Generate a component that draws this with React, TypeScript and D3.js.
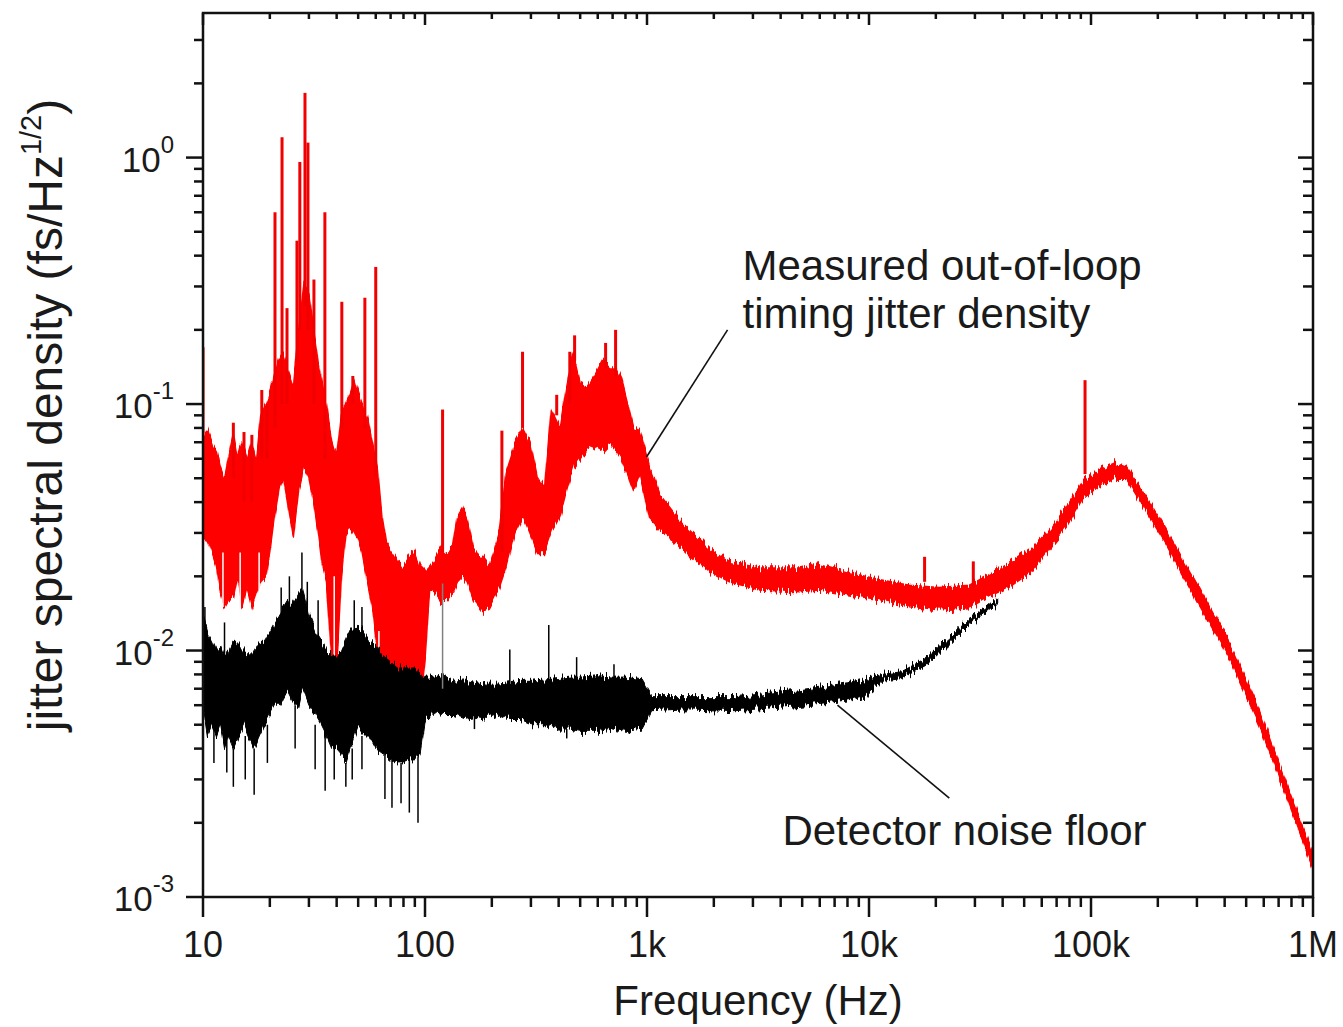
import * as d3 from "d3";

const width = 1343;
const height = 1027;
const plot = { left: 203, right: 1313, top: 13, bottom: 897 };
const font = "'Liberation Sans', Arial, Helvetica, sans-serif";

const freqTicks = [10, 100, 1000, 10000, 100000, 1000000];
const freqTickLabels = ["10", "100", "1k", "10k", "100k", "1M"];
const densityTicks = [0.001, 0.01, 0.1, 1];
const densityExponents = ["-3", "-2", "-1", "0"];

// measured out-of-loop jitter: [freq Hz, lower edge, upper edge] of the noisy trace
const redBand: [number, number, number][] = [
  [10, 0.03, 0.075], [10.5, 0.028, 0.078], [11, 0.025, 0.07], [11.5, 0.022, 0.065],
  [12, 0.017, 0.055], [12.5, 0.015, 0.05], [13, 0.016, 0.06], [13.7, 0.0165, 0.075],
  [14.3, 0.02, 0.06], [15, 0.015, 0.07], [15.8, 0.018, 0.06], [16.6, 0.015, 0.07],
  [17.4, 0.017, 0.06], [18.2, 0.019, 0.09], [19.2, 0.02, 0.1], [20, 0.025, 0.11],
  [21, 0.035, 0.13], [22, 0.045, 0.15], [23, 0.05, 0.16], [24, 0.04, 0.14],
  [25.5, 0.029, 0.12], [27, 0.045, 0.2], [28.5, 0.055, 0.3], [30, 0.05, 0.28],
  [31.5, 0.04, 0.2], [33, 0.03, 0.15], [34.5, 0.022, 0.12], [36, 0.019, 0.1],
  [38, 0.009, 0.07], [40, 0.0085, 0.06], [42, 0.02, 0.09], [44, 0.03, 0.1],
  [46, 0.032, 0.11], [48, 0.03, 0.125], [50, 0.028, 0.11], [52, 0.025, 0.1],
  [55, 0.019, 0.088], [58, 0.015, 0.07], [61, 0.01, 0.056], [64, 0.008, 0.035],
  [67, 0.0065, 0.027], [71, 0.006, 0.025], [75, 0.0055, 0.023], [80, 0.0052, 0.022],
  [85, 0.0052, 0.024], [90, 0.0055, 0.025], [95, 0.006, 0.022], [100, 0.009, 0.021],
  [105, 0.0176, 0.022], [112, 0.017, 0.024], [118, 0.016, 0.026], [125, 0.016, 0.025],
  [133, 0.017, 0.026], [140, 0.019, 0.035], [148, 0.02, 0.038], [155, 0.019, 0.034],
  [165, 0.016, 0.026], [180, 0.0145, 0.024], [195, 0.015, 0.022], [216, 0.018, 0.03],
  [233, 0.022, 0.055], [254, 0.03, 0.07], [276, 0.035, 0.08], [297, 0.03, 0.07],
  [320, 0.025, 0.05], [345, 0.025, 0.045], [370, 0.03, 0.095], [405, 0.035, 0.08],
  [435, 0.045, 0.12], [465, 0.055, 0.16], [500, 0.06, 0.12], [535, 0.065, 0.117],
  [580, 0.068, 0.13], [630, 0.065, 0.15], [680, 0.07, 0.14], [725, 0.065, 0.14],
  [770, 0.06, 0.125], [820, 0.052, 0.1], [870, 0.045, 0.08], [927, 0.052, 0.078],
  [1030, 0.034, 0.056], [1140, 0.031, 0.043], [1330, 0.028, 0.036], [1560, 0.0245, 0.031],
  [1910, 0.021, 0.026], [2350, 0.019, 0.023], [3200, 0.0176, 0.0216], [4860, 0.0173, 0.0216],
  [5980, 0.0176, 0.0225], [8170, 0.0168, 0.0207], [11100, 0.0161, 0.0194], [15200, 0.0152, 0.0184],
  [20700, 0.0146, 0.018], [28300, 0.0149, 0.0184], [34800, 0.0166, 0.0203], [42900, 0.0181, 0.0226],
  [54300, 0.021, 0.026], [64900, 0.026, 0.031], [77300, 0.0316, 0.038], [91200, 0.041, 0.048],
  [108900, 0.0465, 0.054], [129800, 0.05, 0.058], [143900, 0.05, 0.056], [164700, 0.041, 0.047],
  [217800, 0.027, 0.031], [306700, 0.0152, 0.018], [432300, 0.0088, 0.0102], [571600, 0.005, 0.0058],
  [779800, 0.0024, 0.0027], [1000000, 0.0013, 0.0015],
];

// narrow lines in the measured trace: [freq Hz, base, peak]
const redSpikes: [number, number, number][] = [
  [10, 0.05, 0.17], [13.7, 0.05, 0.084], [15.3, 0.04, 0.077], [16.6, 0.04, 0.075],
  [18.4, 0.06, 0.114], [19.4, 0.06, 0.1], [21.1, 0.08, 0.6], [22.7, 0.1, 1.21],
  [23.9, 0.1, 0.245], [26.5, 0.15, 0.46], [27.3, 0.2, 0.96], [28.8, 0.25, 1.83],
  [29.7, 0.2, 1.15], [31.6, 0.1, 0.32], [35.4, 0.06, 0.6], [42.2, 0.08, 0.26],
  [47.3, 0.1, 0.13], [53.6, 0.08, 0.27], [60, 0.05, 0.36], [120, 0.025, 0.095],
  [222, 0.025, 0.078], [275, 0.08, 0.163], [392, 0.09, 0.109], [449, 0.1, 0.163],
  [472, 0.15, 0.19], [651, 0.14, 0.177], [722, 0.13, 0.2], [17800, 0.019, 0.024],
  [29500, 0.018, 0.023], [94000, 0.052, 0.125],
  // dips
  [12.3, 0.025, 0.015], [14.7, 0.025, 0.015], [17.9, 0.025, 0.016], [39, 0.02, 0.0078],
  [62, 0.012, 0.0095], [70, 0.008, 0.0052], [88, 0.008, 0.005],
];

// detector noise floor: [freq Hz, lower edge, upper edge]
const blackBand: [number, number, number][] = [
  [10, 0.006, 0.014], [10.5, 0.0045, 0.012], [11, 0.005, 0.011], [11.5, 0.0045, 0.01],
  [12, 0.005, 0.0105], [12.5, 0.004, 0.0095], [13, 0.0045, 0.01], [13.7, 0.004, 0.011],
  [14.5, 0.0045, 0.0105], [15.3, 0.005, 0.01], [16, 0.0045, 0.0095], [17, 0.004, 0.01],
  [18, 0.0045, 0.011], [19, 0.005, 0.011], [20, 0.0055, 0.012], [21, 0.006, 0.013],
  [22, 0.006, 0.014], [23, 0.0065, 0.015], [24, 0.007, 0.016], [25, 0.0065, 0.015],
  [26, 0.006, 0.016], [27, 0.006, 0.017], [28, 0.007, 0.018], [29, 0.0065, 0.016],
  [30, 0.006, 0.014], [32, 0.0055, 0.012], [34, 0.005, 0.011], [36, 0.0045, 0.01],
  [38, 0.004, 0.0095], [40, 0.004, 0.0095], [42, 0.0038, 0.01], [44, 0.0035, 0.011],
  [46, 0.004, 0.012], [48, 0.0045, 0.012], [50, 0.005, 0.0125], [53, 0.0045, 0.012],
  [56, 0.0045, 0.011], [60, 0.004, 0.0105], [65, 0.0038, 0.0095], [70, 0.0036, 0.009],
  [75, 0.0035, 0.0085], [80, 0.0035, 0.0085], [85, 0.0036, 0.0085], [90, 0.0036, 0.0085],
  [95, 0.0038, 0.008], [100, 0.0052, 0.0078], [110, 0.0056, 0.0078], [120, 0.0055, 0.008],
  [135, 0.0055, 0.0075], [150, 0.0053, 0.0076], [170, 0.0054, 0.0074], [190, 0.0053, 0.0073],
  [210, 0.0055, 0.0073], [240, 0.0052, 0.0074], [270, 0.0052, 0.0075], [300, 0.005, 0.0075],
  [350, 0.005, 0.0076], [400, 0.0048, 0.0077], [450, 0.0048, 0.0078], [500, 0.0047, 0.0078],
  [600, 0.0047, 0.0079], [700, 0.0048, 0.0078], [800, 0.0047, 0.0078], [950, 0.0048, 0.0076],
  [1050, 0.0057, 0.0065], [1500, 0.0058, 0.0065], [2500, 0.0057, 0.0065], [4100, 0.0059, 0.0068],
  [6000, 0.0061, 0.0071], [8000, 0.0063, 0.0074], [9700, 0.0066, 0.0077], [11500, 0.0075, 0.008],
  [14000, 0.0077, 0.0082], [18000, 0.0087, 0.0093], [23000, 0.0106, 0.0113], [28000, 0.0126, 0.0133],
  [34000, 0.0143, 0.015], [38000, 0.0156, 0.0163],
];

// lines and dips in the noise floor: [freq Hz, base, tip]
const blackSpikes: [number, number, number][] = [
  [10.2, 0.01, 0.015], [12.5, 0.009, 0.013], [22.5, 0.012, 0.018], [24.5, 0.013, 0.02],
  [27.9, 0.014, 0.025], [29.5, 0.013, 0.019], [33, 0.011, 0.016], [48, 0.011, 0.016],
  [52, 0.011, 0.015], [120, 0.007, 0.0187], [241, 0.0072, 0.0101], [361, 0.0072, 0.0127],
  [482, 0.0072, 0.0094], [710, 0.0072, 0.0088],
  [11.2, 0.005, 0.0035], [12.8, 0.0045, 0.0032], [13.7, 0.004, 0.0028], [15.5, 0.0045, 0.003],
  [17, 0.004, 0.0026], [19.5, 0.005, 0.0035], [26, 0.006, 0.004], [32, 0.005, 0.0033],
  [35.5, 0.0045, 0.0027], [39, 0.004, 0.003], [44, 0.0035, 0.0028], [47, 0.004, 0.003],
  [52, 0.0045, 0.0033], [66, 0.0038, 0.0025], [71, 0.0036, 0.0023], [78, 0.0035, 0.0024],
  [85, 0.0036, 0.0022], [93, 0.0037, 0.002], [167, 0.0054, 0.0048], [435, 0.0048, 0.0044],
];

// callouts, anchored in data units [freq, value]
const callouts = [
  {
    lines: ["Measured out-of-loop", "timing jitter density"],
    text: [2692, 0.319],
    from: [995, 0.061],
    to: [2306, 0.2],
  },
  {
    lines: ["Detector noise floor"],
    text: [4074, 0.001626],
    from: [7211, 0.00601],
    to: [23000, 0.00252],
  },
];

const x = d3.scaleLog().domain([10, 1e6]).range([plot.left, plot.right]);
const y = d3.scaleLog().domain([1e-3, 3.86]).range([plot.bottom, plot.top]);

const band = d3
  .area<[number, number, number]>()
  .x((d) => x(d[0]))
  .y0((d) => y(d[1]))
  .y1((d) => y(d[2]));

const isMajor = (t: number) =>
  Math.abs(Math.log10(t) - Math.round(Math.log10(t))) < 1e-6;

function App() {
  const xt = x.ticks();
  const yt = y.ticks();
  return (
    <svg
      width={width}
      height={height}
      style={{ position: "absolute", left: 0, top: 0, background: "#fff" }}
      fontFamily={font}
    >
      <defs>
        <clipPath id="plot-area">
          <rect
            x={plot.left}
            y={plot.top}
            width={plot.right - plot.left}
            height={plot.bottom - plot.top}
          />
        </clipPath>
        {/* vertical jitter texture so the dense traces look like measured noise */}
        <filter
          id="jag"
          filterUnits="userSpaceOnUse"
          x={plot.left - 10}
          y={0}
          width={plot.right - plot.left + 20}
          height={plot.bottom + 10}
          colorInterpolationFilters="sRGB"
        >
          <feTurbulence type="fractalNoise" baseFrequency="0.5 0.012" numOctaves={2} seed={7} result="noise" />
          <feColorMatrix
            in="noise"
            type="matrix"
            values="0 0 0 0 0.5  1 0 0 0 0  0 0 0 0 0  0 0 0 0 1"
            result="map"
          />
          <feDisplacementMap in="SourceGraphic" in2="map" scale={16} xChannelSelector="R" yChannelSelector="G" />
        </filter>
      </defs>

      <g clipPath="url(#plot-area)">
        <g filter="url(#jag)">
          <path d={band(redBand) ?? ""} fill="#ff0000" stroke="#ff0000" strokeWidth={1.5} />
        </g>
        {redSpikes.map(([f, a, b], i) => (
          <line key={"r" + i} x1={x(f)} x2={x(f)} y1={y(a)} y2={y(b)} stroke={b > a ? "#f00000" : "#fff"} strokeWidth={b > a ? 3 : 1.5} />
        ))}
        <g filter="url(#jag)">
          <path d={band(blackBand) ?? ""} fill="#000" stroke="#000" strokeWidth={1} />
        </g>
        {blackSpikes.map(([f, a, b], i) => (
          <line
            key={"k" + i}
            x1={x(f)}
            x2={x(f)}
            y1={y(a)}
            y2={y(b)}
            stroke={f === 120 ? "#808080" : "#000"}
            strokeWidth={1.5}
          />
        ))}
      </g>

      {/* frame */}
      <rect
        x={plot.left}
        y={plot.top}
        width={plot.right - plot.left}
        height={plot.bottom - plot.top}
        fill="none"
        stroke="#111"
        strokeWidth={2.5}
      />

      {/* x ticks: outward at bottom, inward at top */}
      {xt.map((t, i) => {
        const major = isMajor(t);
        return (
          <g key={"xt" + i} stroke="#111" strokeWidth={2.5}>
            <line x1={x(t)} x2={x(t)} y1={plot.bottom} y2={plot.bottom + (major ? 20 : 10)} />
            <line x1={x(t)} x2={x(t)} y1={plot.top} y2={plot.top + (major ? 12 : 6)} />
          </g>
        );
      })}
      {freqTicks.map((t, i) => (
        <text key={"xl" + i} x={x(t)} y={957} fontSize={36} textAnchor="middle" fill="#1a1a1a">
          {freqTickLabels[i]}
        </text>
      ))}

      {/* y ticks: outward at left, inward at right */}
      {yt.map((t, i) => {
        const major = isMajor(t);
        return (
          <g key={"yt" + i} stroke="#111" strokeWidth={2.5}>
            <line x1={plot.left - (major ? 17 : 9)} x2={plot.left} y1={y(t)} y2={y(t)} />
            <line x1={plot.right - (major ? 15 : 10)} x2={plot.right} y1={y(t)} y2={y(t)} />
          </g>
        );
      })}
      {densityTicks.map((t, i) => (
        <text key={"yl" + i} x={174} y={y(t) + 14} fontSize={35} textAnchor="end" fill="#1a1a1a">
          <tspan>10</tspan>
          <tspan dy={-19} fontSize={24}>
            {densityExponents[i]}
          </tspan>
        </text>
      ))}

      {/* axis titles */}
      <text x={(plot.left + plot.right) / 2} y={1015} fontSize={42} textAnchor="middle" fill="#1a1a1a">
        Frequency (Hz)
      </text>
      <text
        transform="translate(62,415) rotate(-90)"
        fontSize={48}
        textAnchor="middle"
        fill="#1a1a1a"
      >
        <tspan>jitter spectral density (fs/Hz</tspan>
        <tspan dy={-21} fontSize={29}>
          1/2
        </tspan>
        <tspan dy={21}>)</tspan>
      </text>

      {/* callouts */}
      {callouts.map((c, i) => (
        <g key={"c" + i}>
          <line
            x1={x(c.from[0])}
            y1={y(c.from[1])}
            x2={x(c.to[0])}
            y2={y(c.to[1])}
            stroke="#111"
            strokeWidth={1.6}
          />
          <text x={x(c.text[0])} y={y(c.text[1])} fontSize={42} fill="#1a1a1a">
            {c.lines.map((l, j) => (
              <tspan key={j} x={x(c.text[0])} dy={j === 0 ? 0 : 48}>
                {l}
              </tspan>
            ))}
          </text>
        </g>
      ))}
    </svg>
  );
}

export default App;
